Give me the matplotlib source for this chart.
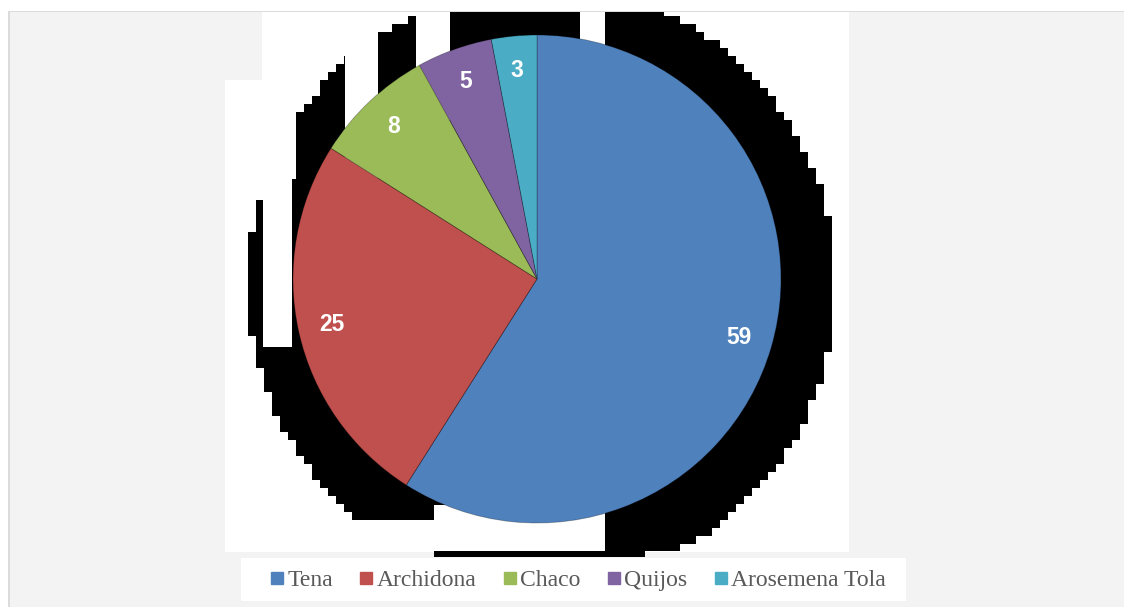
import numpy as np
import matplotlib
matplotlib.use("Agg")
import matplotlib.pyplot as plt
from matplotlib.lines import Line2D

# Cantones y número de casos
cantones = ['Tena', 'Archidona', 'Chaco', 'Quijos', 'Arosemena Tola']
valores = [59, 25, 8, 5, 3]
colores = ['#4F81BD', '#C0504D', '#9BBB59', '#8064A2', '#4BACC6']

W, H = 1124, 607
plt.rcParams['font.family'] = ['Liberation Sans', 'DejaVu Sans']


def build_background():
    """Fondo gris con marco, zonas blancas y la sombra escalonada del gráfico."""
    img = np.ones((H, W, 3))
    img[11:, 9:] = 0.955
    img[11:12, 9:] = 0.86
    img[11:, 8:10] = 0.86
    # área del gráfico y caja de la leyenda
    img[12:80, 262:849] = 1.0
    img[80:552, 225:849] = 1.0
    img[558:601, 241:906] = 1.0

    # sombra pixelada detrás del pastel
    yy, xx = np.mgrid[0:H, 0:W]
    xq = (xx // 8) * 8 + 4
    yq = (yy // 8) * 8 + 4
    sombra = ((xq - 542) / 294.0) ** 2 + ((yq - 285) / 300.0) ** 2 <= 1.0
    sombra &= (yy >= 12) & (yy < 557)
    # huecos blancos en la sombra
    sombra &= ~((xx < 296) & (yy < 179))
    sombra &= ~((xx >= 263) & (xx < 292) & (yy >= 175) & (yy < 347))
    sombra &= ~((xx >= 345) & (xx < 378) & (yy < 200))
    sombra &= ~((xx >= 416) & (xx < 450) & (yy < 120))
    sombra &= ~((xx >= 580) & (xx < 605) & (yy < 45))
    sombra &= ~((xx < 434) & (yy >= 520))
    sombra &= ~((xx >= 434) & (xx < 605) & (yy >= 505) & (yy < 551))
    sombra &= ~((xx >= 645) & (yy >= 551))
    img[sombra] = 0.0
    return img


fig = plt.figure(figsize=(W / 100, H / 100), dpi=100)

ax_bg = fig.add_axes([0, 0, 1, 1])
ax_bg.imshow(build_background(), extent=(0, W, H, 0), interpolation='nearest')
ax_bg.set_xlim(0, W)
ax_bg.set_ylim(H, 0)
ax_bg.axis('off')

# pastel centrado en (537, 279) con radio 244 px
cx, cy, r = 537, 279, 244
ax = fig.add_axes([(cx - r) / W, 1 - (cy + r) / H, 2 * r / W, 2 * r / H])
total = sum(valores)
ax.pie(valores, colors=colores, startangle=90, counterclock=False,
       autopct=lambda p: f'{round(p * total / 100):d}', pctdistance=0.86,
       wedgeprops=dict(linewidth=0.6, edgecolor=(0, 0, 0, 0.3)),
       textprops=dict(color='white', fontweight='bold', fontsize=16.5))
ax.set_xlim(-1, 1)
ax.set_ylim(-1, 1)
ax.axis('off')

handles = [Line2D([], [], marker='s', color=c, linestyle='None', markersize=8)
           for c in colores]
fig.legend(handles, cantones, loc='center', ncol=5, frameon=False,
           bbox_to_anchor=(578 / W, 1 - 580 / H),
           prop=dict(family='Liberation Serif', size=17), labelcolor='#595959',
           handlelength=0.6, handletextpad=0.15, columnspacing=1.1,
           borderpad=0, borderaxespad=0)

fig.savefig('out.png', dpi=100)
